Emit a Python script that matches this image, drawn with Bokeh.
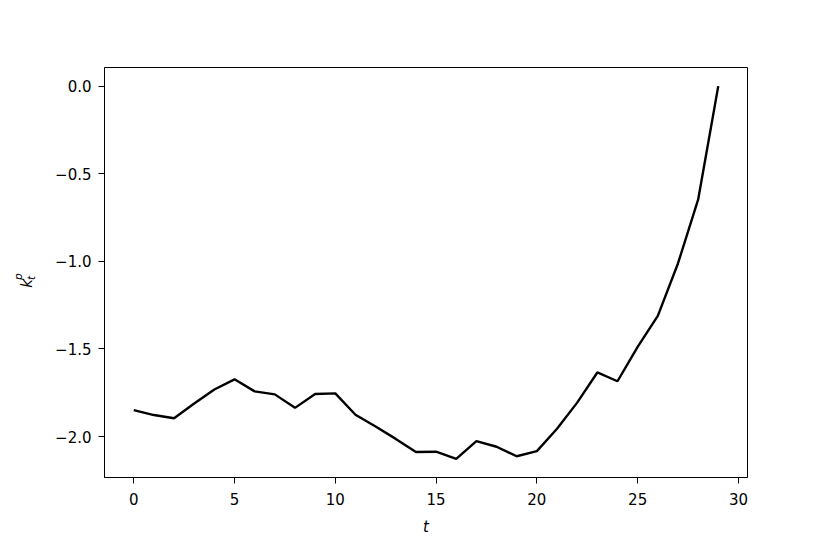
import numpy as np
from bokeh.plotting import figure
from bokeh.layouts import row
from bokeh.models import Range1d, FixedTicker, Label
from bokeh.embed import file_html
from bokeh.resources import INLINE

t_values = list(range(30))
k_values = [-1.849, -1.877, -1.895, -1.811, -1.731, -1.673, -1.742, -1.759, -1.836, -1.757,
            -1.753, -1.875, -1.942, -2.013, -2.088, -2.086, -2.127, -2.026, -2.058, -2.112,
            -2.083, -1.955, -1.806, -1.634, -1.684, -1.488, -1.311, -1.012, -0.648, 0.0]
x_ticks = [0, 5, 10, 15, 20, 25, 30]
y_ticks = [-2.0, -1.5, -1.0, -0.5, 0.0]

FONT = "DejaVu Sans"
W, H = 814, 538
LW = 40  # width of the strip that carries the y-axis label

xmin, xmax = min(t_values), max(t_values)
ymin, ymax = min(k_values), max(k_values)
xpad = 0.05 * (xmax - xmin)
ypad = 0.05 * (ymax - ymin)

p = figure(width=W - LW, height=H, output_backend="svg", toolbar_location=None,
           x_range=Range1d(xmin - xpad, xmax + xpad),
           y_range=Range1d(ymin - ypad, ymax + ypad),
           min_border_left=104 - LW, min_border_right=67, min_border_top=67, min_border_bottom=54)

p.line(t_values, k_values, line_color="black", line_width=2.4)

p.xgrid.visible = False
p.ygrid.visible = False
p.outline_line_color = "black"
p.outline_line_width = 1
p.background_fill_color = "white"
p.border_fill_color = "white"

for ax in (p.xaxis[0], p.yaxis[0]):
    ax.axis_line_color = "black"
    ax.axis_line_width = 1
    ax.major_tick_line_color = "black"
    ax.major_tick_line_width = 1
    ax.major_tick_out = 6
    ax.major_tick_in = 0
    ax.minor_tick_line_color = None
    ax.major_label_text_font = FONT
    ax.major_label_text_font_size = "15px"
    ax.major_label_text_color = "black"

p.xaxis[0].ticker = FixedTicker(ticks=x_ticks)
p.yaxis[0].ticker = FixedTicker(ticks=y_ticks)
p.xaxis[0].major_label_overrides = {v: str(v) for v in x_ticks}
p.yaxis[0].major_label_overrides = {v: f"{v:.1f}".replace("-", "\u2212") for v in y_ticks}
p.xaxis[0].major_label_standoff = 9
p.yaxis[0].major_label_standoff = 7

p.xaxis[0].axis_label = "t"
p.xaxis[0].axis_label_text_font = FONT
p.xaxis[0].axis_label_text_font_style = "italic"
p.xaxis[0].axis_label_text_font_size = "15px"
p.xaxis[0].axis_label_text_color = "black"
p.xaxis[0].axis_label_standoff = 10

# narrow strip on the left that carries the y-axis label k_t^p
lab = figure(width=LW, height=H, output_backend="svg", toolbar_location=None,
             x_range=Range1d(0, LW), y_range=Range1d(H, 0),
             x_axis_type=None, y_axis_type=None,
             min_border_left=0, min_border_right=0, min_border_top=0, min_border_bottom=0)
lab.grid.visible = False
lab.outline_line_color = None
lab.background_fill_color = "white"
lab.border_fill_color = "white"

label_style = dict(angle=np.pi / 2, text_font=FONT, text_font_style="italic",
                   text_align="left", text_baseline="alphabetic", text_color="black")
lab.add_layout(Label(x=26, y=289, text="k", text_font_size="15px", **label_style))
lab.add_layout(Label(x=30, y=279, text="t", text_font_size="10.5px", **label_style))
lab.add_layout(Label(x=17, y=279, text="p", text_font_size="10.5px", **label_style))

layout = row(lab, p, spacing=0)
open("out.html", "w").write(file_html(layout, INLINE))
